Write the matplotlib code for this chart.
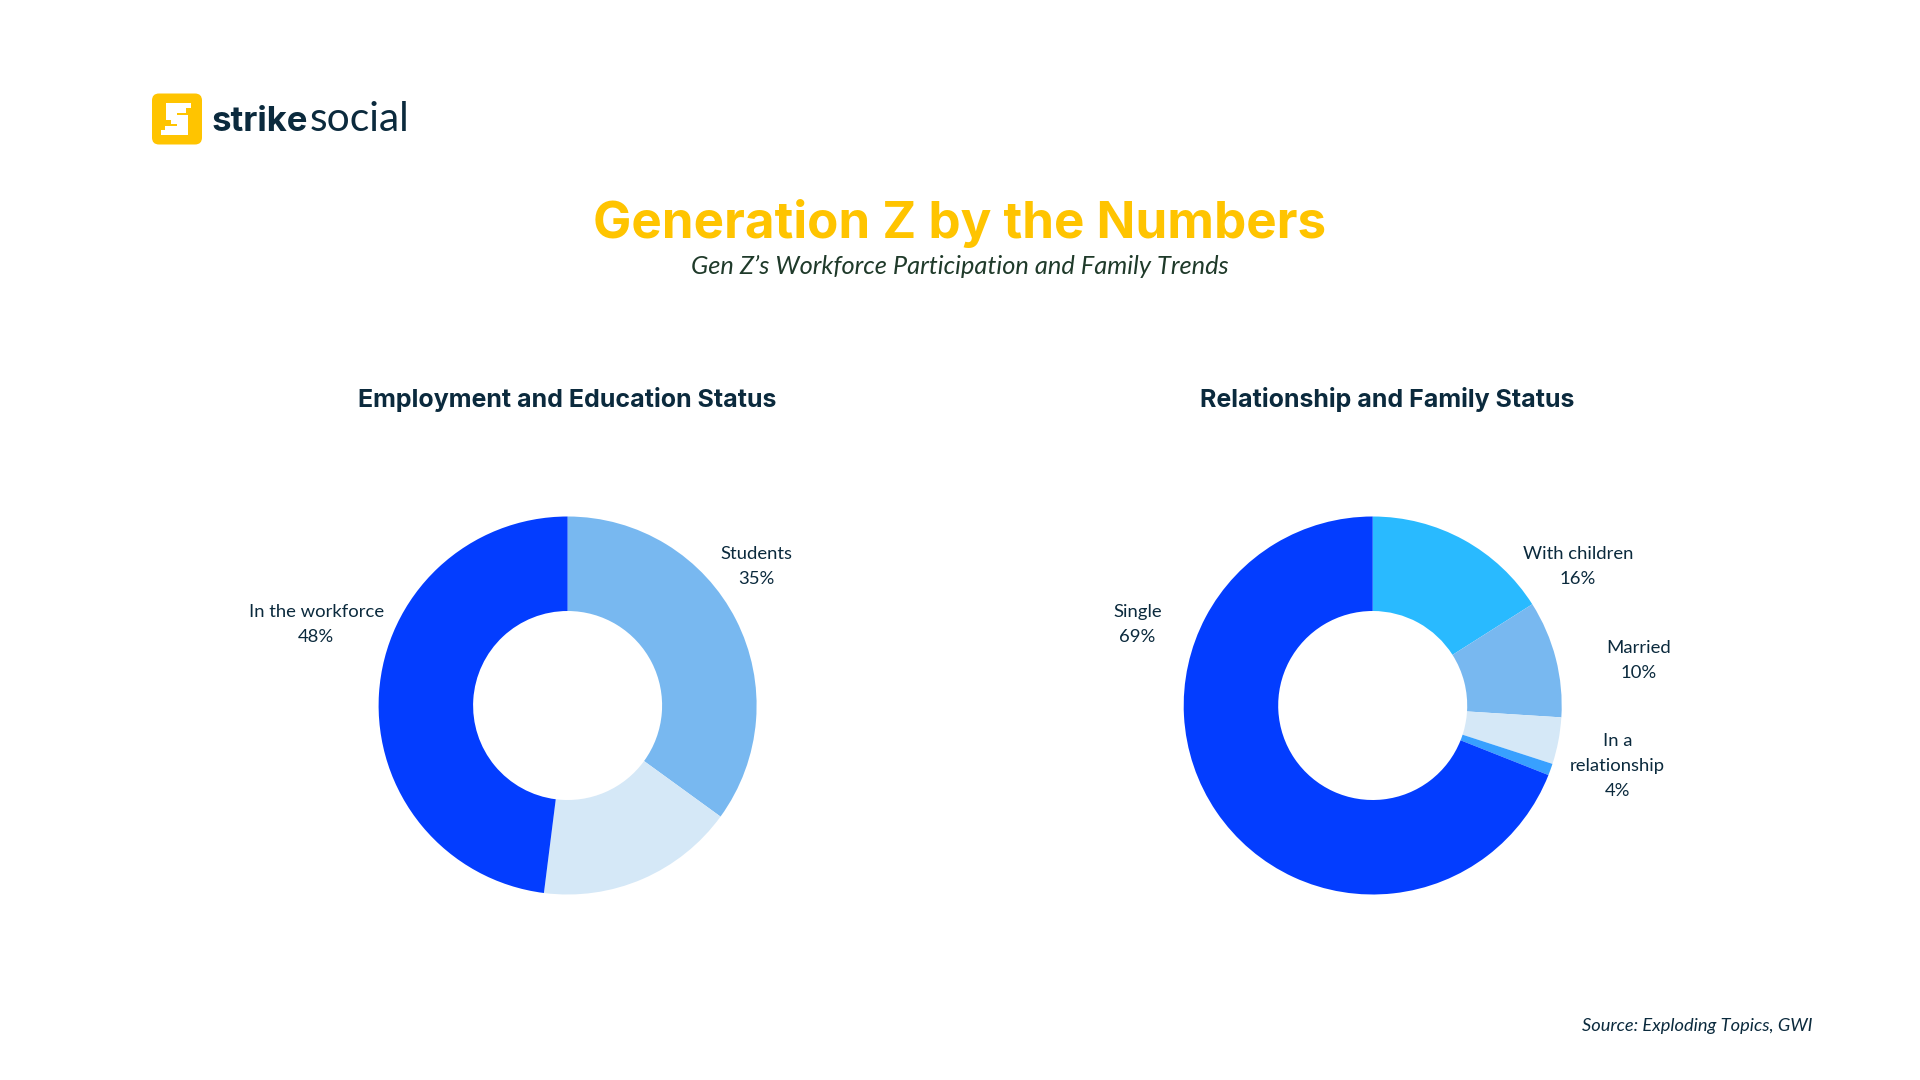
import matplotlib
matplotlib.use("Agg")
import matplotlib.pyplot as plt
from matplotlib.patches import FancyBboxPatch, Rectangle

W, H = 1920, 1080
DARK = "#0B2A3D"
YELLOW = "#FFC400"
HEAD_FONT = "Inter"

# left donut, clockwise from the top
employment_labels = ["Students\n35%", "", "In the workforce\n48%"]
employment_values = [35, 17, 48]
employment_colors = ["#78B8F0", "#D5E8F7", "#033DFF"]

# right donut, clockwise from the top
family_labels = ["With children\n16%", "Married\n10%", "In a\nrelationship\n4%", "", "Single\n69%"]
family_values = [16, 10, 4, 1, 69]
family_colors = ["#29BAFF", "#78B8F0", "#D5E8F7", "#38A0FF", "#033DFF"]

# label centres, in donut radii from the donut centre
employment_label_pos = [(1.0, 0.737), None, (-1.33, 0.427)]
family_label_pos = [(1.085, 0.737), (1.405, 0.237), (1.295, -0.32), None, (-1.245, 0.427)]

RADIUS = 189
CENTER_Y = 705.5


def draw_donut(fig, center_x, values, colors, labels, label_pos):
    # axes is wider than the donut so the limits stay in donut radii
    span = 1.8
    size = RADIUS * span * 2
    ax = fig.add_axes([(center_x - size / 2) / W, 1 - (CENTER_Y + size / 2) / H, size / W, size / H])
    ax.pie(
        values,
        colors=colors,
        startangle=90,
        counterclock=False,
        radius=1,
        wedgeprops={"width": 0.5, "linewidth": 0},
    )
    ax.set_xlim(-span, span)
    ax.set_ylim(-span, span)
    ax.set_aspect("equal")
    ax.axis("off")

    for label, pos in zip(labels, label_pos):
        if pos is None:
            continue
        ax.text(pos[0], pos[1], label, ha="center", va="center", family="Lato",
                fontsize=13.3, color=DARK, linespacing=1.7)


def draw_logo(ax):
    ax.add_patch(FancyBboxPatch((158, 99.5), 38, 39, boxstyle="round,pad=6,rounding_size=7",
                                facecolor=YELLOW, edgecolor="none"))
    # blocky white S
    blocks = [
        (166, 103, 20, 10), (185, 103, 6, 5), (166, 113, 11, 7), (171, 115, 17, 9),
        (177, 124, 11, 11), (165, 126, 14, 9), (161, 130, 5, 5),
    ]
    for x, y, w, h in blocks:
        ax.add_patch(Rectangle((x, y), w, h, facecolor="white", edgecolor="none"))
    ax.text(212, 131, "strike", family=HEAD_FONT, weight="bold", fontsize=25,
            color=DARK, ha="left", va="baseline")
    ax.text(310, 131, "social", family="Lato", weight="normal", fontsize=29.3,
            color=DARK, ha="left", va="baseline")


def main():
    fig = plt.figure(figsize=(W / 100, H / 100), dpi=100, facecolor="white")

    # full figure overlay in pixel coordinates for the logo and headings
    overlay = fig.add_axes([0, 0, 1, 1])
    overlay.set_xlim(0, W)
    overlay.set_ylim(H, 0)
    overlay.axis("off")

    draw_logo(overlay)

    overlay.text(960, 223, "Generation Z by the Numbers", family=HEAD_FONT, weight="bold",
                 fontsize=36.8, color=YELLOW, ha="center", va="center")
    overlay.text(960, 266, "Gen Z\u2019s Workforce Participation and Family Trends", family="Lato",
                 style="italic", fontsize=18.3, color="#1F3A2A", ha="center", va="center")
    overlay.text(567.6, 400, "Employment and Education Status", family=HEAD_FONT, weight="bold",
                 fontsize=18, color=DARK, ha="center", va="center")
    overlay.text(1387, 400, "Relationship and Family Status", family=HEAD_FONT, weight="bold",
                 fontsize=18, color=DARK, ha="center", va="center")
    overlay.text(1812, 1026, "Source: Exploding Topics, GWI", family="Lato", style="italic",
                 fontsize=13.15, color=DARK, ha="right", va="center")

    draw_donut(fig, 567.6, employment_values, employment_colors, employment_labels, employment_label_pos)
    draw_donut(fig, 1372.7, family_values, family_colors, family_labels, family_label_pos)

    fig.savefig("out.png", dpi=100, facecolor="white")


if __name__ == "__main__":
    main()
